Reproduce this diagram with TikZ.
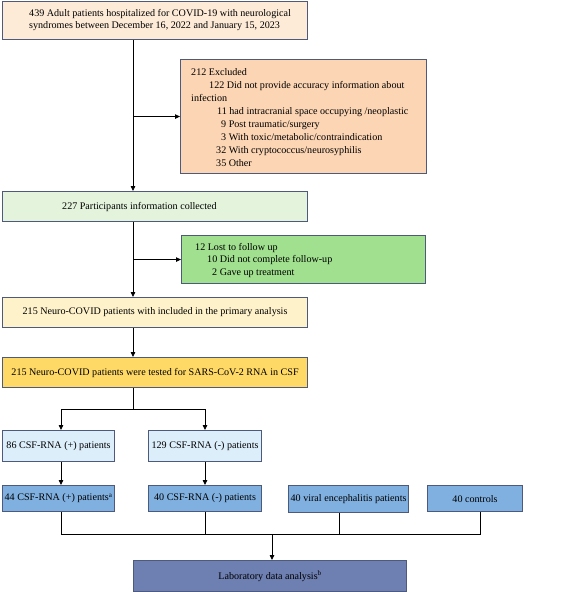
\documentclass[tikz,border=0pt]{standalone}
\usepackage{fontspec}
\setmainfont{Liberation Serif}
\usetikzlibrary{arrows.meta}
\definecolor{bord}{HTML}{4E5A7C}
\definecolor{cA}{HTML}{FDEBD8}
\definecolor{cB}{HTML}{FCD5B4}
\definecolor{cC}{HTML}{E3F3DC}
\definecolor{cD}{HTML}{A0E08F}
\definecolor{cE}{HTML}{FEF2CB}
\definecolor{cF}{HTML}{FFD966}
\definecolor{cG}{HTML}{DDEEFB}
\definecolor{cH}{HTML}{80B0E0}
\definecolor{cI}{HTML}{6E7FB2}
\begin{document}
\begin{tikzpicture}[x=1pt,y=-1pt,
  box/.style={draw=bord,line width=1.1pt,inner sep=0pt,anchor=north west,font=\fontsize{10.1}{12}\selectfont},
  txt/.style={inner sep=0pt,anchor=base west,font=\fontsize{10.1}{12}\selectfont},
  arr/.style={line width=0.8pt,-{Triangle[length=5pt,width=4.5pt]}},
  ln/.style={line width=0.8pt}]
\useasboundingbox (0,0) rectangle (561,592);
% boxes
\node[box,fill=cA,minimum width=305pt,minimum height=38pt] (b1) at (2,1) {};
\node[box,fill=cB,minimum width=246pt,minimum height=114pt] (ex) at (180,59) {};
\node[box,fill=cC,minimum width=305pt,minimum height=30pt] (b2) at (2,191) {};
\node[box,fill=cD,minimum width=244pt,minimum height=48pt] (lost) at (181,235) {};
\node[box,fill=cE,minimum width=305pt,minimum height=30pt] (b3) at (2,297) {215 Neuro-COVID patients with included in the primary analysis};
\node[box,fill=cF,minimum width=305pt,minimum height=30pt] (b4) at (2,357) {215 Neuro-COVID patients were tested for SARS-CoV-2 RNA in CSF};
\node[box,fill=cG,minimum width=112pt,minimum height=31pt] (p86) at (2,430) {86 CSF-RNA (+) patients};
\node[box,fill=cG,minimum width=113pt,minimum height=31pt] (n129) at (148,430) {129 CSF-RNA (-) patients};
\node[box,fill=cH,minimum width=112pt,minimum height=26pt] (p44) at (2,485) {44 CSF-RNA (+) patients\textsuperscript{a}};
\node[box,fill=cH,minimum width=113pt,minimum height=26pt] (n40) at (148,485) {40 CSF-RNA (-) patients};
\node[box,fill=cH,minimum width=120pt,minimum height=27pt] (vir) at (288,485) {40 viral encephalitis patients};
\node[box,fill=cH,minimum width=95pt,minimum height=26pt] (ctl) at (427,485) {40 controls};
\node[box,fill=cI,minimum width=273pt,minimum height=31pt] (lab) at (133,560) {Laboratory data analysis\textsuperscript{b}};
% texts
\node[txt] (t1a) at (29,16.5) {439 Adult patients hospitalized for COVID-19 with neurological};
\node[txt] (t1b) at (29,28.5) {syndromes between December 16, 2022 and January 15, 2023};
\node[txt] (e1) at (191,75.5) {212 Excluded};
\node[txt] (e2) at (209,88) {122 Did not provide accuracy information about};
\node[txt] (e3) at (191,101) {infection};
\node[txt] (e4) at (217,114) {11 had intracranial space occupying /neoplastic};
\node[txt] (e5) at (221,127.5) {9 Post traumatic/surgery};
\node[txt] (e6) at (221,140.5) {3 With toxic/metabolic/contraindication};
\node[txt] (e7) at (216,153.5) {32 With cryptococcus/neurosyphilis};
\node[txt] (e8) at (216,166.5) {35 Other};
\node[txt] (t2) at (62,209.5) {227 Participants information collected};
\node[txt] (l1) at (195,250.5) {12 Lost to follow up};
\node[txt] (l2) at (207,262.5) {10 Did not complete follow-up};
\node[txt] (l3) at (212,275.5) {2 Gave up treatment};
% coordinates
\coordinate (mx) at (133,0);
\coordinate (sp) at (133,409);
\coordinate (s1) at (61,409);
\coordinate (s2) at (205,409);
\coordinate (j1) at (61,534);
\coordinate (j2) at (205,534);
\coordinate (j3) at (339,534);
\coordinate (j4) at (480,534);
\coordinate (jm) at (272,534);
% connectors
\draw[arr] (b1.south -| mx) -- (b2.north -| mx);
\draw[arr] (mx |- ex.west) -- (ex.west);
\draw[arr] (b2.south -| mx) -- (b3.north -| mx);
\draw[arr] (mx |- lost.west) -- (lost.west);
\draw[arr] (b3.south -| mx) -- (b4.north -| mx);
\draw[ln] (b4.south -| mx) -- (sp);
\draw[ln] (s1) -- (s2);
\draw[arr] (s1) -- (p86.north -| s1);
\draw[arr] (s2) -- (n129.north -| s2);
\draw[arr] (p86.south -| s1) -- (p44.north -| s1);
\draw[arr] (n129.south -| s2) -- (n40.north -| s2);
\draw[ln] (p44.south -| j1) -- (j1) -- (j4) -- (ctl.south -| j4);
\draw[ln] (n40.south -| j2) -- (j2);
\draw[ln] (vir.south -| j3) -- (j3);
\draw[arr] (jm) -- (lab.north -| jm);
\end{tikzpicture}
\end{document}
